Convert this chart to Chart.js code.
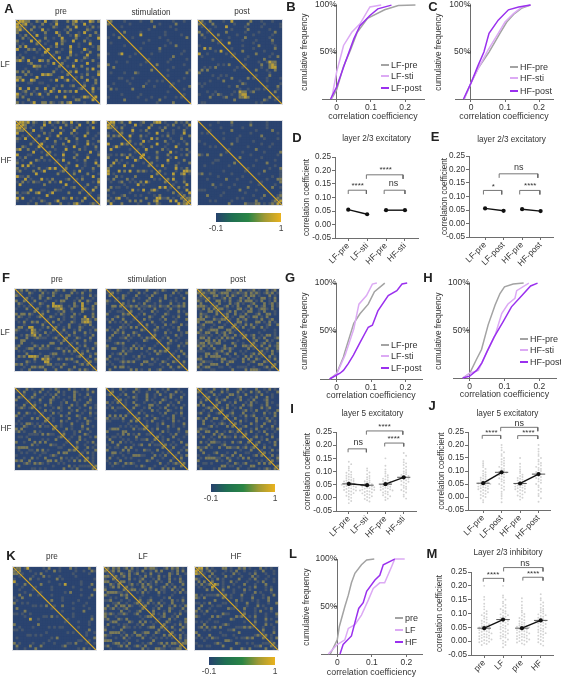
<!DOCTYPE html>
<html>
<head>
<meta charset="utf-8">
<script src="https://cdn.jsdelivr.net/npm/chart.js@4"></script>
<style>
html, body { margin: 0; padding: 0; background: #fff; }
#page { position: relative; width: 561px; height: 678px; overflow: hidden; font-family: "Liberation Sans", Arial, sans-serif; color: #333; }
#page canvas { position: absolute; }
.txt { position: absolute; white-space: nowrap; transform: translate(-50%, -50%); font-size: 8.2px; line-height: 1; }
.letter { font-weight: bold; font-size: 13px; color: #222; }
.swatch { position: absolute; height: 2px; }
</style>
</head>
<body>
<div id="page"></div>
<script>
// upper triangle of each correlation matrix, one string per row: . 1 2 3 = rising level
const heatALfPre = ["3322..21.3..12...2.23.1..32.2","23.1...2..1.3.....21..3.1...1","1..2.1....21...2..3...1.2.12.",".2...3.1.....1.2.....21...3",".1...2...31..2...1.3...2..",".3..1....2...1.31...2..1.","...2..1..3....2...1...3.1","2..1....21..3...2.1.....",".1...3.2.....1...3...21.","..1.2....3..1....1.2.","3....1..2....31...2.","..21...3...1..2...1","1.....2.1...3...2.",".3..2.....21...1.","..1...3.1...2..3","2...1....3...1.",".1.3..2.....21","...1...2.3...1","2.3...1...2..","...1.2...3..","1.2...1...2","...3..2.1.",".1...2..3","2..1...2","..3.1.1",".2...3","1..2.","3.1.",".2."];
const heatALfSti = ["2....1.....1...2.......1...1.","......1..........1.....2.....","..1...........2.....1.......","...........1.........1.....",".2.....1........1.........","......3........1.....1...","..1.........1.........2",".......1......1.......","....1.........1.......","...........1...2.....",".1......2...........",".......1........1..","...1..........1...","..........2......","1.......1.....1","......1.......",".2.........1..","......1......","...1.......1.",".........2..",".1.........","......1...","...1.....","1......",".....2.","..1...",".....","1..","..",".."];
const heatALfPost = ["2..2....1..3......2...1...1..","1..2.......1....2.....1.....1","...1...3......1.....1......1","1.......1.....2.......1....",".....2......1....1.....2..",".2......1.....1......1...","....1.....2........1...","1.......1....1.....2...","..3........1......1....","......1.....2.....1..",".1.......1.......2..","....2.......1......","1.......2.....1...","....1.......1..2.","..1......2.....","......1..1322.","1.....2..232..",".....1..233..","..2...1..2...","......1....1","1....2.....","...1....1.","..1.....2","......1.","1...2..","...1..",".2..1","...","1.",".."];
const heatAHfPre = ["3323.21..2.3.12.21.3.1...2.31","32..1...3..1....2.1..3...1...","2.1...2....1.3...1.2...1.3..","..3..1...2...1...3....1...","1....2.1...3...2.1...2...1","..2...1..3.....1...3...1.","1...3....1.2...2.....1.","..1...2....3..1...2...2","3....1..2....1...3.1..",".1.2....1..3...1...2.","...1...3....2.1...1.","2....1...1.....3..1",".1..3....2...1...2","...1...2....3....","1.3....1..2...1","...2.....1...3.",".1...3..1....2","2.....1...2...","..1.3....1...",".2....2...1.","...1...3..1","1.2.....2.",".....1.3.","..2...1.","1...2..","..3...","1...2","..1.",".2.","1"];
const heatAHfSti = ["33.12..3...12...233.1...2.1.2","2...1...3.1...2.....1.2...1.3","1.2...1.....3...1.2....1..1.",".1...3..1.2.....2...1...2.","2...1.....1..3...1.1...3..","..3...2.1.....1.2....1..2",".1...1...3.2....1...2..","2....3.1.....2..1...1.",".1.2.....3...1...1..2.","...1..2....1...3.....","1..3.....2.1....1.2.","..1...2....3.1....1","3....1...2....1.2.",".1..2....1.3.....","...1...3.....2.","2.....1...1...2",".1.3....2.....","...1...3.1.2.","2.....1..332.",".1..3..23.1.","...1...1..2","2.3...1...","..1..2....","1....3.1",".2.1...","...3.2","1..33","2.12","223","33"];
const heatAHfPost = ["......1....2......1.....1....","..1.......1......2.....1.....",".....1.......1........1.....","1.......2........1.....2..","....1.........1.........1",".........1.......2......","..1....1.........1....1","......1.....1..........","...2..........1...1....","........1.......1....","1.........2.........","....1.......1.....2","......1.........1.",".2.......1.......","......1......1.",".........2.....","...1.......1..","1.......1...2",".....2.....1.","..1.......1.","......1..11","...1...222","1......2.","....1...","..2..1.",".....2","...12",".122","213","33"];
const heatFLfPre = ["12.2..1.2.1...21.2..12...1.2.","1..21...2.1.21.....2.1.2..1..","..1...21...2..1.22....1..2.1.","2.1..2..21.....2...1.2...1","..2...1...1.22...1.2..21..","1..21...3..1....2..3.1..2","..1..2.3332..1.21.3...2.1","2...1..2231..2...321.2.1",".1.2...1.2..1...2...1..2","2....1.21...2.1....2.1.","..21...1..21...3..2...","1...2.1...1..2231.2.",".2..1...21..2332..1","..1...2...1.1.2...","2..1.2...21...1.2","..2...1.2...1.2.","1.1..2...2.1..","..2.1...1..2.","2...21...2..1","..1...2.1...","1.2..1...2.","..1.2...1.","2...1.2..",".1.2...1","2..1.2.","..2..1","1..2.","2.1.","..2","1"];
const heatFLfSti = ["1..21...2.1...2...1.21...2.1.","2.1...1...2.1...21.....2.1..2","...21...2...1.2....2.1...1.","1.2...1.1...2...1.2...1..2","...1.2....21...2...1.1...","2.1...1.2...1.1...2..1.2","11212.111211.2112.11212.",".1..2.1...2...1.2..1...","2...1...2.1...1...2.1.","..1.2...1...21...1..2","1....21...2...1.2...","..2.1...1.2...1...2","1...2...1...21...",".2..1...2.1...2.1","1...2.1...1.2..","..21...1...2..",".1...2.1...1.2","2...1...2.1..","..1.2...1...2","1...2.1...1","..21...1.2.",".1...2.1..","2...1...2","..1.2...","1...2.1",".2..1.","1...2",".2..","1.","."];
const heatFLfPost = ["2.12.21...22.1.2..112.1..2.12","21122.1222.112112.2121.1212.1","1..22.1.2.21..12.22.1...2.1.","2.1..12.2...21.2.1..22.1.2","..22.1.2..12.222.1.2..1.2.","1.2...2.12.1..12...2.12.1","2..12.1.2...21.2.12..2.1.","22.1...22.1.2..1221.2..","..12.2..1.22..1.2...1.2","12..2.1.2...12..22.1.","2.1..22.1.22.1.2...","1..2.12...1.2..12..","..22.1...22.1.2.1.","2.1.2.2.1...12..2","1.2..12..2.1...","...1.....1...1.","1.....1.....1.","2.12..1.22.1..","..2.1.2...12.",".12...2.1..2","2..12.1..2.","1.2..2.12.","..12...2.","2.1.2.1.","1..2..1",".2.1.2","1.2..","..12","2.",".1"];
const heatFHfPre = ["1..2.1...2..1.21...2.1..1.2..",".2...1.2..1...2.1...21...1.2.","1...2...1.1.2..1...2.1..2...","..21..1...2.1...1.2...1.1.","1...2...21...1...2.1...2.",".1.1...2...1.2...1...21..","2...2.1...1...2.1..2...1",".1....1.21..2...1...2.1","..2.1...1...1.2..1.1..","1...2.1...2....1..2.1","..1...2.1...21...1..","2.1.....2...1.2...1",".1..2.1...1...21..","...1...2...1.2...","2.1...1...2...1","...2.1...1.2...",".1...1.2...1..","2...1...21...","..1..2...1.2.","1...2.1....","..2...1.2..",".1..1...1.","2...2.1..","..1...2.","1.2.1..","...1.2","2.1..",".1.2","1.","2"];
const heatFHfSti = [".1..2.1...21...2.1..1.2...1..","2...1...2.1..1...2..1...2.1.","..1.2...1...2..1.2...21...1","1...1.21...2..1...1.2...2.","2.1...1...2.1...21...1.1.",".1..2...1...1.2...1..2..","1...21...22.1...2.1...1","..2...1.2...1.2...1.2.","1...1...2.1...21...1.","..2.1.....1.2...1.2.","1...2.1...1...2..1.","2.1...21...1.2...1","..1.2...1...2.1..",".1...1.2...1...2","2...1...2.1...1",".1.2...1...2..","1...2.1...1..2","..1...1.2...1","2.1...2...1.",".1.2...1...","1...1..2..1","2.1.1...2.","..2...1.1","1...1.2.","..2...1","1.1.2.",".2..1","1..2","2.",".1"];
const heatFHfPost = ["2.1..2..1.2...12.1...2..1.2.1","..12...2.1...2.1..2.12..1...2","1..2.1...22.1..2...1.2...1.","2..1...2...12...1.2...2.1.","..2.12...1.2..1.2...12...",".12...1.2...1.2.1...2.1.","2...2.1...2.12...1.2...1",".1.2..1.2...1...2.12..","2...1...12.1.2...1...2","..12...2...1...2.1.2.","2.1..1.2.12...1...2","..2...1...2.1.2.1..","1..2.1...2...12.1.","2.1...2.1..2...1.","..12...1.2...2.","2...1.2...1.1.2",".1.2..1.2...1.","2...1...2.1..2","..12.1...2..","2...1.2...1",".12...1.2..","2..1...2.1","..2.1...2","1...2.1.","2.1...2","..2.1.","1..2.","2.1.","..","2"];
const heatKPre = ["22.13.....1.2...1...2.1....2.","2...1.....1..2.1.....1..1..21","1....1.2...........1.....1.","...1...2.1...1.....1......",".2..1......2.1...........1",".......1...........1.....","...2......1.3.....1...2","1.....1.......1.....1.",".....1..........1....2","1........1.2.........","...1..........1...2","......1.........1..",".2...1.....1......","........1....1...","1..2.......1...","......1.....1..",".1.......2....","....1........","...1......1..","1........2.","...1...1...","......1...",".1.......","....2..","..1..1.",".1...","...2.","1..",".1","."];
const heatKLf = ["2.212.12.2.1..21221..12.212.1","12.2...21.1.2..1.2.2...1.2.2.","1..21.2.12..1.2..1...21.2..1","2.12.2...1.2.1..2.1.2...1.","1...2.1.12...1.2...2.1.2..","22.1...2.1.1.2.1..2...21.","..12.1.2.21.1...2.1...2.1","2.1...21.2...12.1.2.1..","122.1.2.1.2.11..2.1.2.","..1.2.1...2.1...1.2.1","...1.....1....1.....",".1...1....1.2....1.","2..12...1...2.1.2.","1.2.1.2.1..2...1.","2...1.2..1.2.1.2","..1.2...21...2.",".2...1.2...1.1","2.1.2...1.2..","..12..1.2...1","1...2.1...2","..21...1.2.","2...1.2.1.","1.2...21.","..1.2...","2...1.2","1.2.1.",".2.1.","1.22","22","."];
const heatKHf = ["33.2.1...22.1..212.1...2.1.1.","2.12.1...1.1.2..1...1..2...1.","1..2...1...2.1...1.2...1..1",".2.1...2.1...1...2.1...1.",".1.2.1.....2...1.2...1..1","2...1..2.1...1...1.2...1","32.1...1...2...1...2...","..1.2...1...1.2...1.1.",".2...1...2.1.....1.2.","1...1...1...2.1...1..","2.1...2...1...1...2",".1...1...2...1.2...","..2.1...1.1...2..",".1...2...1...1..2","1...1...2.1....","..2...1...1.2..",".1...1.2...1..","2...1...1...2",".1.2...1...1.","..1...2.1...",".2...1...2.","1...2.1...","..1...1.2",".2...1..","1...2..","2.1...",".1.2.","1..1","2.","1"];

const heatLevelColors = ['#2b4470', '#46566c', '#7b7a58', '#b89e3a'];
const diagonalColor = '#dcaa20';
const colorbarStops = ['#27416e', '#1f6f52', '#2a8545', '#a09a35', '#eab21e'];
const colorbarRange = [-0.1, 1];

// cumulative curves, [coefficient, percent]
const bLfPre = [[-.015,0],[0,10],[.02,35],[.04,52],[.06,71],[.09,86],[.14,95],[.18,99.6],[.23,100]];
const bLfSti = [[-.015,0],[0,29],[.02,57],[.044,71],[.068,80],[.097,98],[.13,100]];
const bLfPost = [[-.018,0],[0,13],[.024,38],[.05,64],[.068,78],[.097,89],[.12,96],[.16,100]];
const cHfPre = [[-.02,0],[0,17],[.02,32],[.053,50],[.085,70],[.105,82],[.125,90],[.15,97],[.175,100]];
const cHfSti = [[-.02,0],[0,17],[.025,35],[.05,52],[.08,70],[.1,82],[.125,91],[.15,98],[.175,100]];
const cHfPost = [[-.022,0],[0,17],[.02,35],[.038,50],[.053,70],[.08,84],[.11,95],[.14,98],[.175,100]];
const gLfPre = [[-.02,0],[0,5.5],[.02,23],[.024,28],[.05,58],[.068,68],[.092,78],[.11,91],[.14,100]];
const gLfSti = [[-.02,0],[0,5],[.025,25],[.05,52],[.058,66],[.065,78],[.087,87],[.104,99],[.117,100]];
const gLfPost = [[-.02,0],[.01,6],[.02,9],[.034,16],[.049,25],[.068,38],[.092,54],[.104,56],[.12,71],[.15,87],[.175,92],[.19,99],[.205,100]];
const hHfPre = [[-.02,0],[0,5],[.02,20],[.034,30],[.053,56],[.073,77],[.087,89],[.1,96],[.125,99],[.155,100]];
const hHfSti = [[-.02,0],[0,5],[.025,8],[.04,20],[.073,45],[.092,68],[.11,78],[.13,84],[.135,92],[.17,100]];
const hHfPost = [[-.02,0],[0,2],[.02,8],[.035,16],[.05,28],[.07,43],[.097,60],[.12,75],[.15,87],[.175,97],[.195,100]];
const lPre = [[-.02,0],[0,15],[.006,29],[.022,50],[.032,62],[.041,75],[.051,85],[.07,94],[.085,99],[.107,100]];
const lLf = [[-.026,0],[0,10],[.022,15],[.032,27],[.051,31],[.07,41],[.09,57],[.104,69],[.123,75],[.137,75],[.157,92],[.166,100],[.195,100]];
const lHf = [[.008,0],[.017,10],[.041,19],[.051,33],[.062,48],[.075,54],[.085,66],[.109,78],[.123,83],[.133,94],[.166,100]];

const cdfPercentTicks = [50, 100];
const cdfCoefTicks = [0, 0.1, 0.2];
const corrTicks = [-0.05, 0, 0.05, 0.1, 0.15, 0.2, 0.25];

const dMeans = [.055, .038, .053, .053];
const eMeans = [.056, .047, .053, .046];
const iMeans = [.053, .048, .052, .078];
const jMeans = [.053, .095, .052, .088];
const mMeans = [.047, .078, .047, .075];

const dLabels = ['LF-pre', 'LF-sti', 'HF-pre', 'HF-sti'];
const eLabels = ['LF-pre', 'LF-post', 'HF-pre', 'HF-post'];
const mLabels = ['pre', 'LF', 'pre', 'HF'];

// single cell values behind the swarms
const iLfPre = [.137,.128,.118,.112,.104,.098,.095,.09,.088,.084,.08,.078,.075,.072,.07,.068,.066,.064,.062,.06,.058,.057,.055,.053,.052,.05,.048,.047,.045,.044,.042,.04,.038,.036,.034,.032,.03,.028,.026,.024,.021,.018,.015,.012,.008,.004,0,-.006,-.012,-.02];
const iLfSti = [.112,.104,.096,.09,.083,.078,.075,.07,.066,.063,.06,.058,.055,.052,.05,.049,.047,.045,.043,.042,.04,.038,.037,.035,.033,.031,.03,.028,.026,.024,.022,.02,.017,.015,.012,.01,.006,.003,0,-.004,-.009,-.014];
const iHfPre = [.15,.122,.108,.099,.092,.086,.082,.077,.073,.07,.067,.064,.061,.059,.056,.054,.052,.05,.048,.046,.044,.042,.04,.038,.036,.034,.032,.03,.028,.025,.022,.02,.016,.013,.01,.006,.002,-.003,-.008];
const iHfSti = [.17,.16,.145,.135,.131,.125,.118,.112,.106,.1,.097,.093,.09,.087,.083,.08,.078,.075,.072,.07,.067,.064,.061,.058,.054,.05,.046,.042,.038,.034,.03,.025,.02,.012,.005,-.003];
const jLfPre = [.138,.13,.122,.115,.108,.1,.095,.09,.086,.082,.078,.074,.071,.068,.065,.062,.06,.058,.056,.054,.052,.05,.048,.046,.044,.042,.04,.038,.036,.034,.032,.03,.027,.024,.021,.018,.015,.012,.008,.004,0,-.005,-.012,-.02];
const jLfPost = [.2,.19,.18,.172,.165,.158,.15,.145,.14,.135,.13,.125,.12,.116,.112,.108,.104,.1,.097,.094,.09,.087,.084,.08,.076,.072,.068,.064,.06,.055,.05,.045,.04,.034,.028,.02,.012,.004,-.006,-.02];
const jHfPre = [.15,.128,.116,.106,.098,.092,.086,.081,.077,.073,.07,.067,.064,.061,.059,.056,.054,.052,.05,.048,.046,.044,.042,.04,.038,.036,.034,.032,.03,.027,.024,.021,.018,.014,.01,.006,.002,-.003,-.01];
const jHfPost = [.2,.185,.175,.165,.158,.15,.143,.137,.131,.126,.121,.116,.112,.108,.104,.1,.096,.092,.088,.085,.081,.077,.073,.069,.065,.06,.055,.05,.044,.038,.032,.026,.02,.012,.004,-.005,-.018];
const mPre1 = [.2,.16,.15,.135,.125,.115,.108,.102,.098,.094,.09,.086,.082,.078,.074,.07,.067,.064,.061,.058,.056,.054,.052,.05,.048,.046,.044,.042,.04,.038,.036,.034,.032,.03,.028,.026,.024,.022,.02,.018,.016,.014,.012,.01,.008,.006,.004,.002,0,-.002,-.004,-.007,-.01,-.014];
const mLf = [.2,.165,.158,.15,.143,.137,.131,.126,.121,.116,.112,.108,.104,.1,.097,.094,.091,.088,.085,.082,.079,.076,.073,.07,.067,.064,.061,.058,.055,.052,.049,.046,.043,.04,.037,.034,.031,.028,.025,.022,.019,.016,.013,.01,.006,.002,-.003,-.008,-.014,-.022];
const mPre2 = [.155,.143,.13,.12,.11,.104,.098,.093,.088,.084,.08,.076,.072,.069,.066,.063,.06,.058,.056,.054,.052,.05,.048,.046,.044,.042,.04,.038,.036,.034,.032,.03,.028,.026,.024,.022,.02,.018,.016,.014,.012,.01,.008,.006,.004,.002,0,-.002,-.005,-.008,-.012];
const mHf = [.17,.155,.148,.14,.133,.127,.121,.116,.112,.108,.104,.1,.097,.094,.091,.088,.085,.082,.079,.076,.074,.072,.07,.067,.065,.062,.059,.056,.053,.05,.047,.044,.041,.038,.035,.032,.029,.026,.023,.02,.016,.012,.008,.004,0,-.004,-.01,-.016];

// [from, to, top, drop, text, textX, textY]
const dBrackets = [[0,.96,.127,.014,'****',.5,.142],[1.9,3,.127,.014,'ns',2.4,.15],[.96,2.9,.184,.015,'****',1.98,.202]];
const eBrackets = [[-.09,.9,.1225,.015,'*',.45,.137],[1.87,2.96,.1225,.015,'****',2.44,.138],[.76,2.85,.184,.015,'ns',1.82,.207]];
const iBrackets = [[-.04,.96,.186,.013,'ns',.51,.21],[1.96,3,.208,.013,'****',2.45,.225],[.96,2.95,.254,.014,'****',1.95,.268]];
const jBrackets = [[-.05,.95,.237,.013,'****',.45,.247],[1.87,2.96,.236,.013,'****',2.45,.247],[.95,2.96,.268,.015,'ns',1.95,.284]];
const mBrackets = [[-.05,1.03,.227,.012,'****',.47,.24],[2.05,3.12,.231,.012,'****',2.6,.243],[1.03,3.12,.266,.014,'ns',2.17,.281]];

const GREY = '#a3a3a3', LILAC = '#dcaaf4', PURPLE = '#9a30ee';
const AXIS = '#6e6e6e', TEXT = '#333', DOT = '#d2d2d2';
const FONT = 'Liberation Sans';
const page = document.getElementById('page');
Chart.defaults.font.family = FONT;
Chart.defaults.color = TEXT;
Chart.defaults.layout.autoPadding = false;

function addCanvas(left, top, width, height) {
    const c = document.createElement('canvas');
    c.width = width;
    c.height = height;
    c.style.left = left + 'px';
    c.style.top = top + 'px';
    c.style.width = width + 'px';
    c.style.height = height + 'px';
    page.appendChild(c);
    return c;
}

function addText(text, x, y, cls, rotate) {
    const d = document.createElement('div');
    d.className = 'txt ' + (cls || '');
    d.textContent = text;
    d.style.left = x + 'px';
    d.style.top = y + 'px';
    if (rotate) d.style.transform = 'translate(-50%, -50%) rotate(' + rotate + 'deg)';
    page.appendChild(d);
}

const baseOpts = { responsive: false, animation: false, devicePixelRatio: 1, events: [] };

// later datasets paint on top
function stackInOrder(datasets) {
    datasets.forEach((d, i) => { d.order = -i; });
    return datasets;
}

// canvases sit on whole pixels so the text stays sharp
function snapBox(plot) {
    ['l', 'r', 't', 'b'].forEach(k => { plot[k] = Math.round(plot[k]); });
    plot.yTitleX = Math.round(plot.yTitleX);
    plot.titleY = Math.round(plot.titleY);
}

// one correlation matrix; only the upper triangle is stored, the rest is its mirror
function heatmap(rows, left, top, size) {
    const n = rows.length + 1;
    const cells = heatLevelColors.map(() => []);
    for (let i = 0; i < n; i++) {
        cells[0].push({ x: i + 0.5, y: i + 0.5 });
        for (let j = i + 1; j < n; j++) {
            const ch = (rows[i] || '')[j - i - 1];
            const level = ch && ch !== '.' ? Number(ch) : 0;
            cells[level].push({ x: j + 0.5, y: i + 0.5 });
            cells[level].push({ x: i + 0.5, y: j + 0.5 });
        }
    }
    const radius = size / n * 0.74;
    const datasets = cells.map((pts, l) => ({
        type: 'scatter', data: pts, pointStyle: 'rect', pointRadius: radius, pointBorderWidth: 0,
        pointBackgroundColor: heatLevelColors[l]
    }));
    datasets.push({
        type: 'line', data: [{ x: 0, y: 0 }, { x: n, y: n }], borderColor: diagonalColor, borderWidth: 1.2,
        pointRadius: 0
    });
    const c = addCanvas(left, top, size, size);
    c.style.outline = '1px solid #dfe1e6';
    c.style.background = heatLevelColors[0];
    new Chart(c, {
        data: { datasets: stackInOrder(datasets) },
        options: {
            ...baseOpts,
            plugins: { legend: { display: false }, tooltip: { enabled: false } },
            scales: {
                x: { type: 'linear', min: 0, max: n, display: false },
                y: { type: 'linear', min: 0, max: n, reverse: true, display: false }
            }
        }
    });
}

function colorbar(left, top, width, height) {
    const m = 12;
    new Chart(addCanvas(left - m, top, width + 2 * m, height + 14), {
        type: 'bar',
        data: {
            labels: ['r'],
            datasets: [{
                data: [colorbarRange],
                barPercentage: 1, categoryPercentage: 1,
                backgroundColor(ctx) {
                    const area = ctx.chart.chartArea;
                    if (!area) return colorbarStops[0];
                    const g = ctx.chart.ctx.createLinearGradient(area.left, 0, area.right, 0);
                    colorbarStops.forEach((c, i) => g.addColorStop(i / (colorbarStops.length - 1), c));
                    return g;
                }
            }]
        },
        options: {
            ...baseOpts,
            indexAxis: 'y',
            layout: { padding: { left: m, right: m } },
            plugins: { legend: { display: false }, tooltip: { enabled: false } },
            scales: {
                y: { display: false },
                x: {
                    type: 'linear', min: colorbarRange[0], max: colorbarRange[1],
                    border: { display: false }, grid: { display: false, drawTicks: false, tickLength: 0 },
                    afterBuildTicks(s) { s.ticks = colorbarRange.map(v => ({ value: v })); },
                    afterFit(s) { s.height = 14; },
                    ticks: { font: { size: 8.5 }, padding: 2, maxRotation: 0, color: '#444', callback: v => String(v) }
                }
            }
        }
    });
}

// cumulative frequency panel, y axis stands at coefficient 0
function cdfPanel(plot, series) {
    snapBox(plot);
    const m = { l: 36, t: 6, r: 8, b: plot.titleY - plot.b + 6 };
    new Chart(addCanvas(plot.l - m.l, plot.t - m.t, plot.r - plot.l + m.l + m.r, plot.b - plot.t + m.t + m.b), {
        type: 'line',
        data: {
            datasets: stackInOrder(series.map(s => ({
                data: s.values.map(p => ({ x: p[0], y: p[1] })),
                borderColor: s.color, borderWidth: 1.5, pointRadius: 0, tension: 0, clip: false
            })))
        },
        options: {
            ...baseOpts,
            layout: { padding: { left: m.l, right: m.r, top: m.t } },
            plugins: { legend: { display: false }, tooltip: { enabled: false } },
            scales: {
                x: {
                    type: 'linear', min: plot.xMin, max: plot.xMax,
                    border: { color: AXIS, width: 1 },
                    grid: { drawOnChartArea: false, tickLength: 3, tickColor: AXIS },
                    afterBuildTicks(s) { s.ticks = cdfCoefTicks.map(v => ({ value: v })); },
                    afterFit(s) { s.height = m.b; },
                    ticks: { font: { size: 8.5 }, padding: 1, maxRotation: 0, callback: v => String(v) },
                    title: { display: true, text: 'correlation coefficiency', font: { size: 8.8 }, padding: 0 }
                },
                y: {
                    type: 'linear', min: 0, max: 100, position: { x: 0 },
                    border: { color: AXIS, width: 1 },
                    grid: { drawOnChartArea: false, tickLength: 3, tickColor: AXIS },
                    afterBuildTicks(s) { s.ticks = cdfPercentTicks.map(v => ({ value: v })); },
                    ticks: { font: { size: 8.5 }, padding: 1, autoSkip: false, callback: v => v + '%' }
                }
            }
        }
    });
    addText('cumulative frequency', plot.yTitleX, (plot.t + plot.b) / 2, '', -90);
    series.forEach(s => {
        const sw = document.createElement('div');
        sw.className = 'swatch';
        sw.style.background = s.color;
        sw.style.left = plot.legendX + 'px';
        sw.style.top = (s.legendY - 1) + 'px';
        sw.style.width = '8px';
        page.appendChild(sw);
        const t = document.createElement('div');
        t.className = 'txt';
        t.textContent = s.name;
        t.style.left = (plot.legendX + 10) + 'px';
        t.style.top = s.legendY + 'px';
        t.style.transform = 'translate(0, -50%)';
        t.style.fontSize = '9px';
        page.appendChild(t);
    });
}

// text over the significance brackets, placed in data units
const bracketText = {
    id: 'bracketText',
    afterDatasetsDraw(chart, args, opts) {
        const { ctx, scales } = chart;
        ctx.save();
        ctx.fillStyle = TEXT;
        ctx.textAlign = 'center';
        ctx.textBaseline = 'middle';
        (opts.items || []).forEach(b => {
            ctx.font = (b[4] === 'ns' ? '9px ' : '8px ') + FONT;
            ctx.fillText(b[4], scales.x.getPixelForValue(b[5]), scales.y.getPixelForValue(b[6]));
        });
        ctx.restore();
    }
};

// beeswarm offsets: values in the same band fan out sideways from the group centre
function swarm(values, centre) {
    const bins = {};
    return values.map(v => {
        const b = Math.round(v / 0.011);
        const k = bins[b] = (bins[b] || 0) + 1;
        const side = k % 2 ? -1 : 1;
        return { x: centre + side * Math.floor(k / 2) * 0.13, y: v };
    });
}

function corrPanel(plot, labels, means, brackets, title, groups) {
    snapBox(plot);
    const m = { l: plot.l - plot.yTitleX + 5, t: 28, r: 8, b: 36 };
    const datasets = [];
    (groups || []).forEach((g, i) => datasets.push({
        type: 'scatter', data: swarm(g, i), pointRadius: 0.95, pointBorderWidth: 0,
        pointBackgroundColor: DOT, clip: false
    }));
    brackets.forEach(b => datasets.push({
        type: 'line',
        data: [{ x: b[0], y: b[2] - b[3] }, { x: b[0], y: b[2] }, { x: b[1], y: b[2] }, { x: b[1], y: b[2] - b[3] }],
        borderColor: '#666', borderWidth: 0.9, pointRadius: 0, tension: 0, clip: false
    }));
    if (groups) {
        means.forEach((v, i) => datasets.push({
            type: 'line', data: [{ x: i - 0.36, y: v }, { x: i + 0.36, y: v }],
            borderColor: '#555', borderWidth: 1, pointRadius: 0, clip: false
        }));
    }
    [0, 2].forEach(i => datasets.push({
        type: 'line', data: [{ x: i, y: means[i] }, { x: i + 1, y: means[i + 1] }],
        borderColor: '#111', borderWidth: 1.4, pointRadius: 2.1, pointBorderWidth: 0,
        pointBackgroundColor: '#111', clip: false
    }));
    new Chart(addCanvas(plot.l - m.l, plot.t - m.t, plot.r - plot.l + m.l + m.r, plot.b - plot.t + m.t + m.b), {
        data: { datasets: stackInOrder(datasets) },
        plugins: [bracketText],
        options: {
            ...baseOpts,
            layout: { padding: { right: m.r, top: m.t } },
            plugins: { legend: { display: false }, tooltip: { enabled: false }, bracketText: { items: brackets } },
            scales: {
                x: {
                    type: 'linear', min: plot.xMin, max: plot.xMax,
                    border: { color: AXIS, width: 1 },
                    grid: { drawOnChartArea: false, tickLength: 3, tickColor: AXIS },
                    afterBuildTicks(s) { s.ticks = labels.map((l, i) => ({ value: i })); },
                    afterFit(s) { s.height = m.b; },
                    ticks: {
                        font: { size: 8.5 }, padding: 0, minRotation: 45, maxRotation: 45, autoSkip: false,
                        callback: v => labels[v]
                    }
                },
                y: {
                    type: 'linear', min: -0.05, max: 0.25,
                    border: { color: AXIS, width: 1 },
                    grid: { drawOnChartArea: false, tickLength: 3, tickColor: AXIS },
                    afterBuildTicks(s) { s.ticks = corrTicks.map(v => ({ value: v })); },
                    afterFit(s) { s.width = m.l; },
                    ticks: { font: { size: 8.2 }, padding: 1, autoSkip: false, callback: v => v.toFixed(2) },
                    title: { display: true, text: 'correlation coefficient', font: { size: 8.2 }, padding: 0 }
                }
            }
        }
    });
    addText(title, (plot.l + plot.r) / 2 + plot.titleShift, plot.titleY);
}

// matrices
[heatALfPre, heatALfSti, heatALfPost].forEach((h, i) => heatmap(h, [16, 107, 198][i], 20, 84));
[heatAHfPre, heatAHfSti, heatAHfPost].forEach((h, i) => heatmap(h, [16, 107, 198][i], 121, 84));
[heatFLfPre, heatFLfSti, heatFLfPost].forEach((h, i) => heatmap(h, [15, 106, 197][i], 289, 82));
[heatFHfPre, heatFHfSti, heatFHfPost].forEach((h, i) => heatmap(h, [15, 106, 197][i], 388, 82));
[heatKPre, heatKLf, heatKHf].forEach((h, i) => heatmap(h, [13, 104, 195][i], 567, 83));
colorbar(216, 213, 65, 9);
colorbar(211, 484, 64, 8);
colorbar(209, 657, 66, 8);

addText('pre', 61, 12); addText('stimulation', 151, 13); addText('post', 242, 12);
addText('LF', 5, 65); addText('HF', 6, 161);
addText('pre', 57, 280); addText('stimulation', 147, 280); addText('post', 238, 280);
addText('LF', 5, 333); addText('HF', 6, 429);
addText('pre', 52, 557); addText('LF', 143, 557); addText('HF', 236, 557);

// cumulative panels
cdfPanel({ l: 322, r: 424, t: 4.7, b: 99.3, xMin: -0.043, xMax: 0.255, titleY: 116, yTitleX: 305, legendX: 381 }, [
    { name: 'LF-pre', values: bLfPre, color: GREY, legendY: 65 },
    { name: 'LF-sti', values: bLfSti, color: LILAC, legendY: 76 },
    { name: 'LF-post', values: bLfPost, color: PURPLE, legendY: 88 }
]);
cdfPanel({ l: 455, r: 553, t: 4.7, b: 99.3, xMin: -0.047, xMax: 0.241, titleY: 116, yTitleX: 439, legendX: 510 }, [
    { name: 'HF-pre', values: cHfPre, color: GREY, legendY: 67 },
    { name: 'HF-sti', values: cHfSti, color: LILAC, legendY: 78 },
    { name: 'HF-post', values: cHfPost, color: PURPLE, legendY: 91 }
]);
cdfPanel({ l: 320, r: 422.3, t: 282.7, b: 378.7, xMin: -0.048, xMax: 0.248, titleY: 395, yTitleX: 305, legendX: 381 }, [
    { name: 'LF-pre', values: gLfPre, color: GREY, legendY: 345 },
    { name: 'LF-sti', values: gLfSti, color: LILAC, legendY: 356 },
    { name: 'LF-post', values: gLfPost, color: PURPLE, legendY: 368 }
]);
cdfPanel({ l: 453.3, r: 555.7, t: 282.7, b: 377.5, xMin: -0.048, xMax: 0.248, titleY: 394, yTitleX: 439, legendX: 520 }, [
    { name: 'HF-pre', values: hHfPre, color: GREY, legendY: 339 },
    { name: 'HF-sti', values: hHfSti, color: LILAC, legendY: 350 },
    { name: 'HF-post', values: hHfPost, color: PURPLE, legendY: 362 }
]);
cdfPanel({ l: 321, r: 422.3, t: 559.3, b: 654.3, xMin: -0.047, xMax: 0.245, titleY: 671.5, yTitleX: 306.7, legendX: 395 }, [
    { name: 'pre', values: lPre, color: GREY, legendY: 618 },
    { name: 'LF', values: lLf, color: LILAC, legendY: 630 },
    { name: 'HF', values: lHf, color: PURPLE, legendY: 642 }
]);

// coefficient panels
corrPanel({ l: 335, r: 418, t: 157, b: 238.3, xMin: -0.7, xMax: 3.69, yTitleX: 307, titleShift: 0, titleY: 139 }, dLabels, dMeans, dBrackets, 'layer 2/3 excitatory');
corrPanel({ l: 469, r: 552.7, t: 156, b: 237, xMin: -0.87, xMax: 3.67, yTitleX: 445, titleShift: 0.5, titleY: 139.5 }, eLabels, eMeans, eBrackets, 'layer 2/3 excitatory');
corrPanel({ l: 335.7, r: 415.7, t: 432.3, b: 511, xMin: -0.7, xMax: 3.67, yTitleX: 308, titleShift: -3.5, titleY: 414 }, dLabels, iMeans, iBrackets, 'layer 5 excitatory', [iLfPre, iLfSti, iHfPre, iHfSti]);
corrPanel({ l: 468.3, r: 550, t: 432.3, b: 510, xMin: -0.82, xMax: 3.62, yTitleX: 442, titleShift: -1.5, titleY: 414 }, eLabels, jMeans, jBrackets, 'layer 5 excitatory', [jLfPre, jLfPost, jHfPre, jHfPost]);
corrPanel({ l: 471, r: 553.3, t: 572, b: 655, xMin: -0.7, xMax: 3.65, yTitleX: 440, titleShift: -4, titleY: 553 }, mLabels, mMeans, mBrackets, 'Layer 2/3 inhibitory', [mPre1, mLf, mPre2, mHf]);

// panel letters
[['A',9,8],['B',291,6],['C',433,6],['D',297,137],['E',435,136],['F',6,277],['G',290,277],['H',428,277],['I',292,408],['J',432,405],['K',11,555],['L',293,553],['M',432,553]]
    .forEach(l => addText(l[0], l[1], l[2], 'letter'));
</script>
</body>
</html>
